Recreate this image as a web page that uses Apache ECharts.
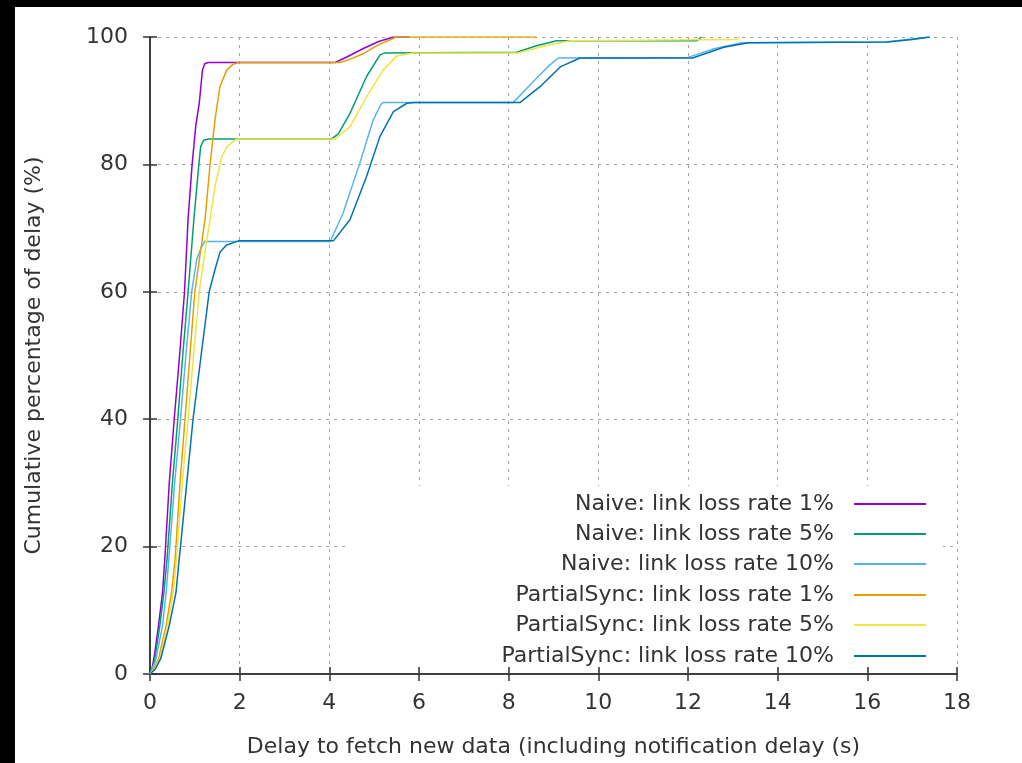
<!DOCTYPE html>
<html>
<head>
<meta charset="utf-8">
<script src="https://cdn.jsdelivr.net/npm/echarts@6/dist/echarts.min.js"></script>
<style>
  html, body { margin: 0; padding: 0; background: #fff; }
  #main { width: 1022px; height: 763px; }
</style>
</head>
<body>
<div id="main"></div>
<script>
// legend names
var seriesNames = [
  'Naive: link loss rate 1%',
  'Naive: link loss rate 5%',
  'Naive: link loss rate 10%',
  'PartialSync: link loss rate 1%',
  'PartialSync: link loss rate 5%',
  'PartialSync: link loss rate 10%'
];
var seriesColors = ['#9400d3', '#009e73', '#56b4e9', '#e69f00', '#f0e442', '#0072b2'];

// [delay (s), cumulative %]
var naive1 = [[0,0],[0.05,1],[0.1,3],[0.19,7.6],[0.28,12.8],[0.33,18],[0.43,30],[0.54,40],[0.66,50],
  [0.77,60],[0.85,71.5],[0.94,80],[1.02,86],[1.1,89.7],[1.17,94.8],[1.22,95.8],[1.3,96],
  [4.13,96],[4.4,96.9],[4.76,98.2],[5.1,99.3],[5.43,100],[5.8,100]];
var naive5 = [[0,0],[0.1,2],[0.22,7.6],[0.31,12.8],[0.38,18],[0.5,30],[0.62,40],[0.73,50],[0.85,60],
  [0.98,71.5],[1.09,80],[1.13,82.8],[1.2,83.8],[1.3,84],[4.05,84],[4.2,84.8],[4.46,88],[4.83,93.8],
  [5.13,97.2],[5.24,97.5],[8.18,97.6],[8.6,98.6],[9.07,99.4],[12.2,99.4],[12.3,100]];
var naive10 = [[0,0],[0.12,2],[0.28,7.6],[0.36,12.8],[0.42,18],[0.55,30],[0.68,40],[0.8,50],[0.93,60],
  [1.04,65],[1.14,66.9],[1.22,67.9],[4.02,67.9],[4.31,72.4],[4.68,80.2],[4.98,87],[5.15,89.4],
  [5.2,89.7],[8.1,89.7],[8.55,93],[8.9,95.5],[9.11,96.7],[12.0,96.8],[12.6,98.2],[13.2,99.1],
  [16.4,99.2],[17.0,99.7],[17.36,100]];
var partial1 = [[0,0],[0.1,1],[0.19,2.4],[0.36,7.6],[0.48,12.8],[0.56,18],[0.67,30],[0.78,40],[0.89,50],
  [1.0,60],[1.1,65],[1.23,71.5],[1.34,80],[1.45,87],[1.56,92.2],[1.71,94.8],[1.85,95.7],[1.97,96],
  [4.24,96],[4.5,96.6],[4.76,97.4],[5.1,98.8],[5.5,100],[8.63,100]];
var partial5 = [[0,0],[0.12,1],[0.22,2.4],[0.39,7.6],[0.52,12.8],[0.59,18],[0.72,30],[0.85,40],[0.97,50],
  [1.1,60],[1.22,66],[1.34,71.5],[1.45,76.5],[1.6,81.2],[1.72,82.8],[1.93,84],[4.13,84],[4.46,85.9],
  [4.83,90.6],[5.2,94.8],[5.5,97],[5.87,97.5],[8.2,97.5],[8.8,98.6],[9.37,99.4],[13.1,99.6],[13.15,100]];
var partial10 = [[0,0],[0.12,0.8],[0.24,2.4],[0.43,7.6],[0.58,12.8],[0.65,18],[0.68,20],[0.82,30],[0.96,40],
  [1.14,50],[1.32,60],[1.45,63.5],[1.56,66.2],[1.7,67.3],[1.97,68],[4.09,68],[4.46,71.3],[4.83,78.1],
  [5.13,84.4],[5.43,88.3],[5.73,89.6],[5.9,89.7],[8.25,89.7],[8.7,92.2],[9.15,95.3],[9.59,96.7],
  [12.1,96.7],[12.8,98.4],[13.35,99.1],[16.45,99.2],[17.0,99.6],[17.4,100]];
var allData = [naive1, naive5, naive10, partial1, partial5, partial10];

var font = 'DejaVu Sans';
var textColor = '#333';
var myChart = echarts.init(document.getElementById('main'));

var axisLineStyle = { color: '#333', width: 1.5 };
var gridLine = { show: true, lineStyle: { color: '#a0a0a0', type: [3, 5], width: 1 } };

// one legend per row so icons line up on the right
var legendTops = [493, 523, 553, 584, 614, 645];
var legends = seriesNames.map(function (n, i) {
  return {
    data: [n],
    right: 96,
    top: legendTops[i],
    orient: 'vertical',
    align: 'right',
    padding: 0,
    icon: 'rect',
    itemWidth: 72,
    itemHeight: 2,
    selectedMode: false,
    textStyle: { fontFamily: font, fontSize: 22, color: textColor, lineHeight: 22, padding: [0, 15, 0, 0] }
  };
});

var option = {
  animation: false,
  backgroundColor: '#fff',
  grid: { left: 150, right: 65, top: 37, bottom: 88 },
  legend: legends,
  xAxis: [{
    type: 'value', min: 0, max: 18, interval: 2,
    name: 'Delay to fetch new data (including notification delay (s)',
    nameLocation: 'middle', nameGap: 62,
    nameTextStyle: { fontFamily: font, fontSize: 22, color: textColor },
    axisLine: { show: true, lineStyle: axisLineStyle },
    axisTick: { show: true, inside: true, length: 7, lineStyle: axisLineStyle },
    axisLabel: { margin: 18, fontFamily: font, fontSize: 22, color: textColor },
    splitLine: gridLine
  }, {
    type: 'value', min: 0, max: 18, interval: 2, position: 'top',
    axisLine: { show: true, lineStyle: axisLineStyle },
    axisTick: { show: true, inside: true, length: 7, lineStyle: axisLineStyle },
    axisLabel: { show: false }, splitLine: { show: false }
  }],
  yAxis: [{
    type: 'value', min: 0, max: 100, interval: 20,
    name: 'Cumulative percentage of delay (%)',
    nameLocation: 'middle', nameGap: 105, nameRotate: 90,
    nameTextStyle: { fontFamily: font, fontSize: 22, color: textColor },
    axisLine: { show: true, lineStyle: axisLineStyle },
    axisTick: { show: true, inside: true, length: 7, lineStyle: axisLineStyle },
    axisLabel: { margin: 22, fontFamily: font, fontSize: 22, color: textColor },
    splitLine: gridLine
  }, {
    type: 'value', min: 0, max: 100, interval: 20, position: 'right',
    axisLine: { show: true, lineStyle: axisLineStyle },
    axisTick: { show: true, inside: true, length: 7, lineStyle: axisLineStyle },
    axisLabel: { show: false }, splitLine: { show: false }
  }],
  graphic: [
    // key box hides the grid behind it
    { type: 'rect', z: 1, shape: { x: 345, y: 486, width: 598, height: 181 }, style: { fill: '#fff' } },
    // black strips at the picture edges
    { type: 'rect', z: 100, shape: { x: 0, y: 0, width: 1022, height: 7 }, style: { fill: '#000' } },
    { type: 'rect', z: 100, shape: { x: 0, y: 0, width: 15, height: 763 }, style: { fill: '#000' } }
  ],
  series: seriesNames.map(function (n, i) {
    return {
      name: n,
      type: 'line',
      data: allData[i],
      showSymbol: false,
      symbol: 'none',
      color: seriesColors[i],
      lineStyle: { width: 1.5, color: seriesColors[i] }
    };
  })
};

myChart.setOption(option);
</script>
</body>
</html>
